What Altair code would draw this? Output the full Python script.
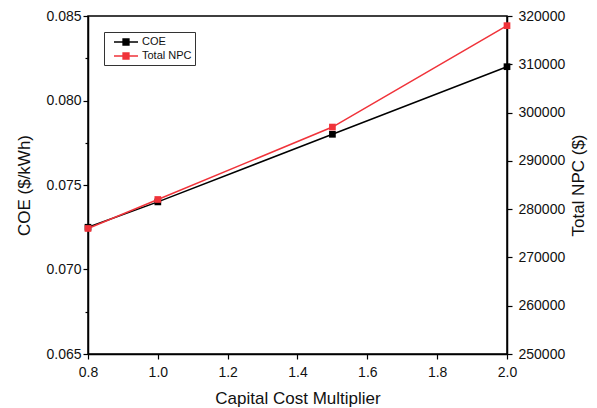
import altair as alt
import pandas as pd

multiplier = [0.8, 1.0, 1.5, 2.0]
coe = [0.0725, 0.0740, 0.0780, 0.0820]
npc = [276000, 282000, 297000, 318000]

x_ticks = [0.8, 1.0, 1.2, 1.4, 1.6, 1.8, 2.0]
coe_ticks = [0.065, 0.0675, 0.070, 0.0725, 0.075, 0.0775, 0.080, 0.0825, 0.085]
npc_ticks = [250000, 260000, 270000, 280000, 290000, 300000, 310000, 320000]

df = pd.DataFrame({"m": multiplier, "coe": coe, "npc": npc})

FONT = "Liberation Sans"
sym = "M-2,0H-0.5M0.5,0H2M-0.5,-0.5H0.5V0.5H-0.5Z"

color = alt.Color(
    "series:N",
    scale=alt.Scale(domain=["COE", "Total NPC"], range=["#000000", "#f0333a"]),
    legend=alt.Legend(
        title=None, orient="none", legendX=16, legendY=16,
        symbolType=sym, symbolSize=144, symbolStrokeWidth=1.3,
        labelFont=FONT, labelFontSize=11, labelColor="#111",
        strokeColor="#333", fillColor="white", padding=3, rowPadding=1,
        symbolOffset=12, labelOffset=9,
    ),
)

xenc = alt.X(
    "m:Q", title="Capital Cost Multiplier",
    scale=alt.Scale(domain=[0.8, 2.0], nice=False, zero=False),
    axis=alt.Axis(values=x_ticks, format=".1f", grid=False, tickSize=5,
                  labelFlush=False, labelPadding=6, titlePadding=11),
)

left = alt.Chart(df).transform_calculate(series="'COE'").mark_line(
    strokeWidth=1.5, point=alt.OverlayMarkDef(shape="square", size=45, filled=True, opacity=1)
).encode(
    x=xenc,
    y=alt.Y(
        "coe:Q", title="COE ($/kWh)",
        scale=alt.Scale(domain=[0.065, 0.085], nice=False, zero=False),
        axis=alt.Axis(
            values=coe_ticks, grid=False, labelPadding=2,
            labelExpr="(round(datum.value*10000) % 50 == 0) ? format(datum.value, '.3f') : ''",
            tickSize={"condition": {"test": "round(datum.value*10000) % 50 == 0", "value": 5}, "value": 3},
            titlePadding=12,
        ),
    ),
    color=color,
)

right = alt.Chart(df).transform_calculate(series="'Total NPC'").mark_line(
    strokeWidth=1.5, point=alt.OverlayMarkDef(shape="square", size=45, filled=True, opacity=1)
).encode(
    x=xenc,
    y=alt.Y(
        "npc:Q", title="Total NPC ($)",
        scale=alt.Scale(domain=[250000, 320000], nice=False, zero=False),
        axis=alt.Axis(orient="right", values=npc_ticks, format="d", grid=False,
                      tickSize=5, labelPadding=6, titlePadding=6, titleAngle=270,
                      titleBaseline="top"),
    ),
    color=color,
)

chart = alt.layer(left, right).resolve_scale(y="independent").properties(
    width=419, height=338,
    autosize=alt.AutoSizeParams(type="none"),
    padding={"left": 80, "top": 8, "right": 82, "bottom": 53},
).configure_view(stroke="#000", strokeWidth=1.5).configure_axis(
    domainColor="#000", domainWidth=1.5, tickColor="#000", tickWidth=1.2,
    labelFont=FONT, labelFontSize=14, labelColor="#111",
    titleFont=FONT, titleFontSize=17, titleFontWeight="normal", titleColor="#111",
)

chart.save("out.html", embed_options={"renderer": "svg", "actions": False})
